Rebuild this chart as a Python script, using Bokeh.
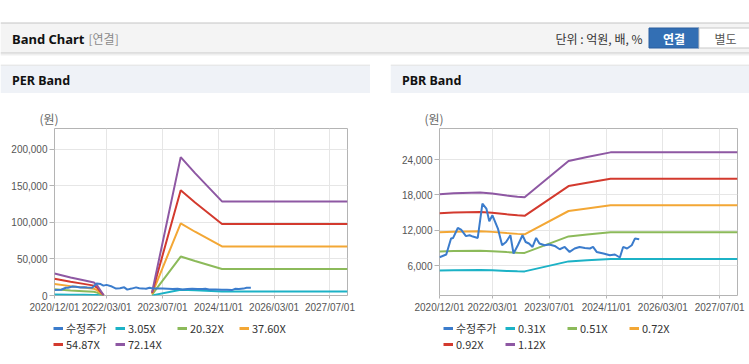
import math
import pandas as pd
from bokeh.plotting import figure
from bokeh.models import (Range1d, FixedTicker, NumeralTickFormatter, DatetimeTickFormatter,
                          Legend, LegendItem, Title, Spacer)
from bokeh.layouts import column, row
from bokeh.embed import file_html
from bokeh.resources import INLINE
from bokeh.core.properties import value

nan = float("nan")

# ---------------- data ----------------
x_tick_dates = ["2020-12-01", "2022-03-01", "2023-07-01", "2024-11-01", "2026-03-01", "2027-07-01"]
x_start, x_end = "2020-12-01", "2027-12-01"

price_dates = ["2020-12-01", "2021-01-28", "2021-03-10", "2021-03-28", "2021-05-07", "2021-06-04",
               "2021-07-16", "2021-08-16", "2021-09-13", "2021-10-25", "2021-12-04", "2022-01-07",
               "2022-02-01", "2022-02-28", "2022-04-16", "2022-05-22", "2022-06-25", "2022-08-01",
               "2022-08-28", "2022-10-04", "2022-11-13", "2022-12-10", "2023-01-07", "2023-02-07",
               "2023-03-10", "2023-04-07", "2023-05-22", "2023-07-01", "2023-08-16", "2023-09-28",
               "2023-11-10", "2023-12-22", "2024-02-03", "2024-03-16", "2024-05-01", "2024-06-13",
               "2024-07-10", "2024-08-10", "2024-10-07", "2024-12-01", "2025-01-13", "2025-02-25",
               "2025-03-25", "2025-04-28", "2025-06-07", "2025-07-04", "2025-08-10"]
price_values = [7410, 7870, 10580, 10690, 12380, 12110,
                11000, 11150, 10920, 10690, 16530, 15680,
                13520, 14540, 12280, 9450, 10000, 11150,
                8040, 9450, 11150, 10000, 9740, 9160,
                10690, 9740, 9450, 9570, 9330, 8770,
                9160, 8310, 8890, 9160, 8990, 8890,
                9160, 8310, 8040, 7750, 7870, 7360,
                9160, 8890, 9450, 10580, 10460]

per_dates = ["2020-12-01", "2021-04-20", "2021-08-12", "2021-11-10", "2021-12-07", "2022-02-03",
             "2022-09-01", "2023-04-01", "2023-12-07", "2024-04-10", "2024-12-01", "2027-12-01"]
per_labels = ["3.05X", "20.32X", "37.60X", "54.87X", "72.14X"]
per_3_05 = [1270, 1040, 884, 751, 595, 15, nan, 183, 8003, 7076, 5444, 5444]
per_20_32 = [8463, 6927, 5887, 5003, 3962, 102, nan, 1219, 53320, 47142, 36271, 36271]
per_37_60 = [15660, 12818, 10893, 9257, 7332, 188, nan, 2256, 98662, 87232, 67116, 67116]
per_54_87 = [22853, 18705, 15896, 13509, 10700, 274, nan, 3292, 143979, 127298, 97943, 97943]
per_72_14 = [30046, 24593, 20899, 17761, 14067, 361, nan, 4328, 189295, 167365, 128770, 128770]
per_y_ticks = [0, 50000, 100000, 150000, 200000]

pbr_dates = ["2020-12-01", "2021-04-01", "2021-11-15", "2022-02-25", "2022-07-01", "2022-10-01",
             "2022-12-01", "2023-12-13", "2024-05-20", "2024-12-07", "2027-12-01"]
pbr_labels = ["0.31X", "0.51X", "0.72X", "0.92X", "1.12X"]
pbr_0_31 = [5150, 5200, 5220, 5180, 5080, 5030, 5000, 6700, 6900, 7120, 7120]
pbr_0_51 = [8400, 8470, 8500, 8430, 8280, 8190, 8140, 10950, 11270, 11650, 11650]
pbr_0_72 = [11640, 11760, 11830, 11720, 11510, 11380, 11310, 15270, 15710, 16230, 16230]
pbr_0_92 = [14880, 15030, 15120, 14980, 14700, 14540, 14450, 19510, 20070, 20740, 20740]
pbr_1_12 = [18110, 18300, 18400, 18230, 17900, 17700, 17600, 23760, 24440, 25240, 25240]
pbr_y_ticks = [6000, 12000, 18000, 24000]

price_label = "수정주가"
colors = ["#3b7ccc", "#1cb2c6", "#8cba5a", "#f3a735", "#d33a2e", "#8e58a3"]

KR = "Noto Sans CJK KR"
TICKF = "Liberation Sans"


def to_dt(lst):
    return [pd.Timestamp(d).to_pydatetime() for d in lst]


def ms(d):
    return pd.Timestamp(d).value // 10**6


def canvas(w, h, x0, x1, y0, y1, fill="white"):
    p = figure(width=w, height=h, x_range=Range1d(x0, x1), y_range=Range1d(y1, y0),
               output_backend="svg", toolbar_location=None, min_border=0,
               x_axis_location=None, y_axis_location=None, frame_align=False)
    p.grid.visible = False
    p.outline_line_color = None
    p.background_fill_color = fill
    p.border_fill_color = fill
    return p


# ---------------- page header ----------------
hdr = canvas(749, 64, 0, 749, 0, 64)
hdr.quad(left=[0], right=[749], top=[22.5], bottom=[52.5], fill_color="#f4f4f4", line_color=None)
hdr.line(x=[0, 749], y=[22.5, 22.5], line_color="#c4c4c4", line_width=1)
hdr.line(x=[0, 749], y=[52.5, 52.5], line_color="#c8c8c8", line_width=1)
hdr.line(x=[0, 749], y=[53.5, 53.5], line_color="#e2e2e2", line_width=1)
hdr.line(x=[0, 749], y=[54.5, 54.5], line_color="#efefef", line_width=1)
hdr.text(x=[11.5], y=[38], text=["Band Chart"], text_font=value("Noto Sans"), text_font_style="bold",
         text_font_size="13px", text_color="#111111", text_baseline="middle")
hdr.text(x=[88], y=[38], text=["[연결]"], text_font=value(KR), text_font_size="12px",
         text_color="#8a8a8a", text_baseline="middle")
hdr.text(x=[642], y=[38], text=["단위 : 억원, 배, %"], text_font=value(KR), text_font_size="12px",
         text_color="#333333", text_baseline="middle", text_align="right")
hdr.quad(left=[648.5], right=[698.5], top=[27.5], bottom=[47.5], fill_color="#336fb4", line_color="#2a5f9f")
hdr.quad(left=[698.5], right=[760], top=[27.5], bottom=[47.5], fill_color="#ffffff", line_color="#c8c8c8")
hdr.text(x=[673.5], y=[37.5], text=["연결"], text_font=value(KR), text_font_style="bold",
         text_font_size="12px", text_color="#ffffff", text_baseline="middle", text_align="center")
hdr.text(x=[725], y=[37.5], text=["별도"], text_font=value(KR), text_font_size="12px",
         text_color="#555555", text_baseline="middle", text_align="center")


def panel_header(w, x0, x1, title):
    ph = canvas(w, 29, x0, x1, 64, 93)
    ph.quad(left=[x0], right=[x1], top=[65], bottom=[93], fill_color="#eff2f7", line_color=None)
    ph.line(x=[x0, x1], y=[64.5, 64.5], line_color="#d8d8d8", line_width=1)
    ph.text(x=[x0 + 11.5], y=[80], text=[title], text_font=value("Noto Sans"), text_font_style="bold",
            text_font_size="12.5px", text_color="#111111", text_baseline="middle")
    return ph


def chart(frame_w, ml, mr, y0, y1, yticks, band_dates, bands):
    p = figure(frame_width=frame_w, frame_height=167, x_axis_type="datetime",
               x_range=Range1d(pd.Timestamp(x_start).to_pydatetime(), pd.Timestamp(x_end).to_pydatetime()),
               y_range=Range1d(y0, y1), output_backend="svg", toolbar_location=None,
               min_border_left=ml, min_border_right=mr, min_border_top=35, min_border_bottom=23,
               frame_align=False)
    p.background_fill_color = "white"
    p.border_fill_color = "white"
    p.outline_line_color = "#b4b4b4"
    xt = FixedTicker(ticks=[ms(d) for d in x_tick_dates])
    p.xaxis.ticker = xt
    p.xgrid.ticker = xt
    fmt = "%Y/%m/%d"
    p.xaxis.formatter = DatetimeTickFormatter(days=fmt, months=fmt, years=fmt, hours=fmt,
                                              minutes=fmt, seconds=fmt, milliseconds=fmt,
                                              microseconds=fmt, hourmin=fmt, minsec=fmt)
    yt = FixedTicker(ticks=yticks)
    p.yaxis.ticker = yt
    p.ygrid.ticker = yt
    p.yaxis.formatter = NumeralTickFormatter(format="0,0")
    p.grid.grid_line_color = "#e6e6e6"
    p.axis.axis_line_color = None
    p.axis.major_tick_line_color = "#b4b4b4"
    p.axis.major_tick_in = 0
    p.axis.minor_tick_line_color = None
    p.xaxis.major_tick_out = 3
    p.yaxis.major_tick_out = 5
    p.xaxis.major_label_standoff = 3
    p.yaxis.major_label_standoff = 2
    p.axis.major_label_text_font = TICKF
    p.axis.major_label_text_font_size = "10px"
    p.axis.major_label_text_color = "#555555"

    bd = to_dt(band_dates)
    for vals, col in zip(bands, colors[1:]):
        p.line(bd, vals, line_color=col, line_width=2)
    p.line(to_dt(price_dates), price_values, line_color=colors[0], line_width=2)
    p.add_layout(Title(text="(원)", align="left", offset=-15, standoff=3,
                       text_font=KR, text_font_size="12px", text_font_style="normal",
                       text_color="#666666"), "above")
    return p


def legend_box(w, band_labels, leg_x):
    lf = figure(width=w, height=45, x_range=Range1d(0, 1), y_range=Range1d(0, 1),
                output_backend="svg", toolbar_location=None, min_border=0,
                x_axis_location=None, y_axis_location=None, frame_align=False)
    lf.grid.visible = False
    lf.outline_line_color = None
    items = []
    for lab, col in zip([price_label] + band_labels, colors):
        # legend swatch only: the line itself lies outside the visible range
        r = lf.line(x=[-10, -9], y=[-10, -9], line_color=col, line_width=3)
        items.append(LegendItem(label=lab, renderers=[r]))
    leg = Legend(items=items, location=(leg_x, 11.5), orientation="horizontal", ncols=4,
                 glyph_width=10, glyph_height=12, label_height=12, label_width=49,
                 spacing=0, label_standoff=3, padding=0, margin=0,
                 border_line_color=None, background_fill_alpha=0,
                 label_text_font=KR, label_text_font_size="11px", label_text_color="#333333",
                 label_text_line_height=1.0)
    lf.add_layout(leg)
    return lf


per = chart(293, 54, 23, 0, 228500, per_y_ticks, per_dates,
            [per_3_05, per_20_32, per_37_60, per_54_87, per_72_14])
pbr = chart(298, 49, 12, 900, 29300, pbr_y_ticks, pbr_dates,
            [pbr_0_31, pbr_0_51, pbr_0_72, pbr_0_92, pbr_1_12])

left = column(panel_header(370, 0, 370, "PER Band"), per, legend_box(370, per_labels, 53),
              canvas(370, 1, 0, 1, 0, 1, fill="#d8d8d8"), spacing=0)
right = column(panel_header(359, 390, 749, "PBR Band"), pbr, legend_box(359, pbr_labels, 53),
               canvas(359, 1, 0, 1, 0, 1, fill="#d8d8d8"), spacing=0)
page = column(hdr, row(left, Spacer(width=20, height=10), right, spacing=0), spacing=0)

open("out.html", "w").write(file_html(page, INLINE))
